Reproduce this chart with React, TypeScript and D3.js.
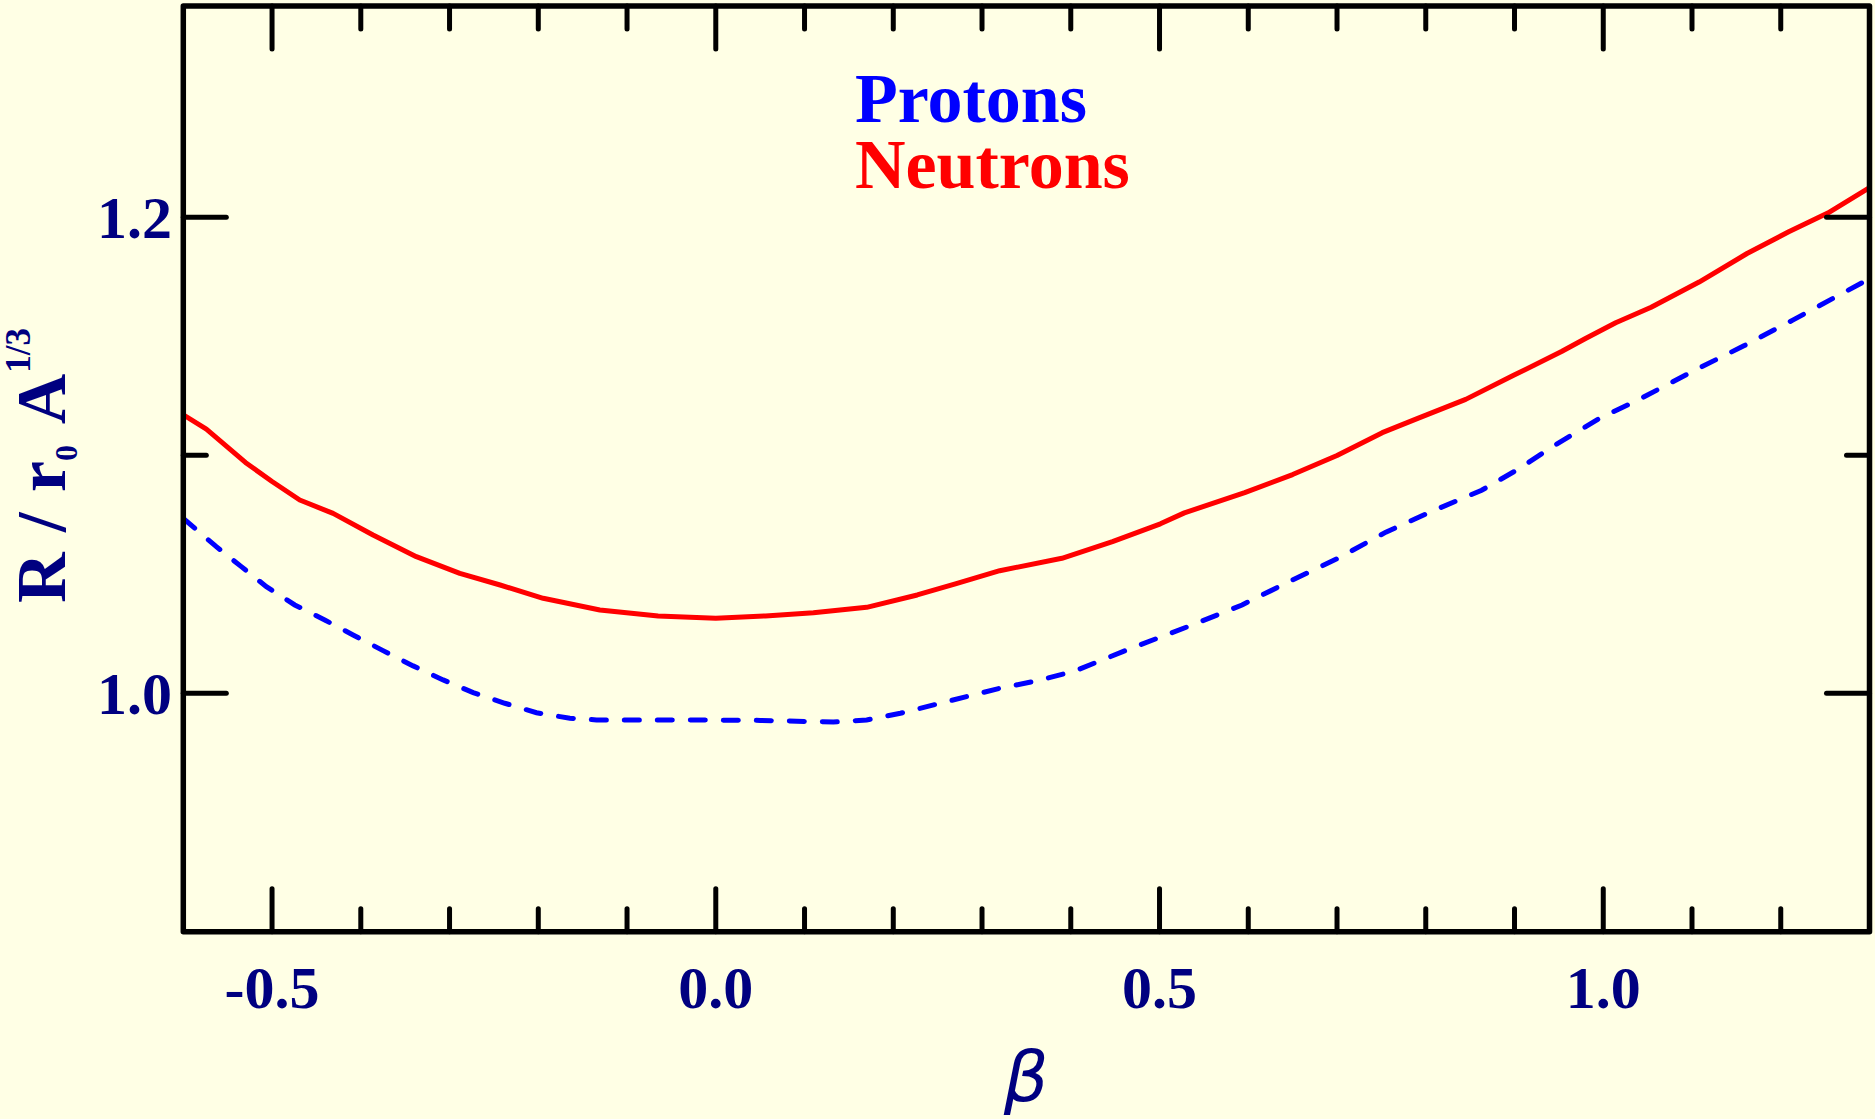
import * as d3 from 'd3';

// beta values and radii
const neutronBeta = [
  -0.6, -0.574, -0.53, -0.5, -0.4688, -0.4312, -0.3862, -0.3374, -0.2884, -0.243, -0.1945, -0.1306, -0.065, 0.0,
  0.056, 0.11, 0.17, 0.227, 0.27, 0.32, 0.39, 0.447, 0.501, 0.528, 0.596, 0.65, 0.7, 0.751, 0.791,
  0.845, 0.899, 0.953, 0.98, 1.014, 1.054, 1.108, 1.162, 1.209, 1.253, 1.3,
];
const neutronR = [
  1.117, 1.111, 1.097, 1.089, 1.0812, 1.0756, 1.0665, 1.0574, 1.0504, 1.0455, 1.0399, 1.035, 1.0325, 1.0315,
  1.0325, 1.0338, 1.0361, 1.0413, 1.046, 1.0515, 1.0567, 1.0637, 1.0712, 1.0758, 1.0843, 1.0919, 1.0999,
  1.1095, 1.1155, 1.1235, 1.1336, 1.1436, 1.1491, 1.1557, 1.1622, 1.1728, 1.1848, 1.1939, 1.2018, 1.2125,
];

const protonBeta = [
  -0.6, -0.5628, -0.5346, -0.5064, -0.4744, -0.4406, -0.4087, -0.3749, -0.341, -0.3072, -0.2734, -0.2377,
  -0.202, -0.1644, -0.1344, -0.05, 0.05, 0.1325, 0.17, 0.208, 0.2455, 0.32, 0.364, 0.405, 0.472, 0.539,
  0.593, 0.647, 0.701, 0.755, 0.809, 0.863, 0.903, 0.944, 0.998, 1.038, 1.105, 1.159, 1.213, 1.3,
];
const protonR = [
  1.0735, 1.0616, 1.0532, 1.0448, 1.0371, 1.0308, 1.0245, 1.0179, 1.0115, 1.0056, 1.0003, 0.9958,
  0.9918, 0.9895, 0.9888, 0.9888, 0.9886, 0.9879, 0.9888, 0.9916, 0.9951, 1.0021, 1.0054, 1.0094, 1.0195, 1.029,
  1.0371, 1.0471, 1.0567, 1.0677, 1.0768, 1.0853, 1.0939, 1.1039, 1.116, 1.123, 1.1361, 1.1461, 1.1567, 1.1742,
];

const xMajor = [-0.5, 0.0, 0.5, 1.0];
const xMinor = [-0.4, -0.3, -0.2, -0.1, 0.1, 0.2, 0.3, 0.4, 0.6, 0.7, 0.8, 0.9, 1.1, 1.2];
const yMajor = [1.0, 1.2];
const yMinor = [1.1];

const W = 1875;
const H = 1119;
const left = 183.3;
const right = 1869.5;
const top = 6;
const bottom = 931.7;

const navy = '#000080';
const bg = '#ffffe5';
const serif = "'Liberation Serif', 'Times New Roman', serif";

export default function App() {
  const x = d3.scaleLinear().domain([-0.6, 1.3]).range([left, right]);
  const y = d3.scaleLinear().domain([0.8998, 1.2888]).range([bottom, top]);

  const line = d3
    .line<[number, number]>()
    .x(d => x(d[0]))
    .y(d => y(d[1]))
    .curve(d3.curveLinear);

  const nPts = neutronBeta.map((b, i) => [b, neutronR[i]] as [number, number]);
  const pPts = protonBeta.map((b, i) => [b, protonR[i]] as [number, number]);

  const majorLen = 43;
  const minorLen = 23;

  return (
    <svg
      width={W}
      height={H}
      style={{ position: 'absolute', left: 0, top: 0, background: bg }}
    >
      <rect width={W} height={H} fill={bg} />
      <defs>
        <clipPath id="plot">
          <rect x={left} y={top} width={right - left} height={bottom - top} />
        </clipPath>
      </defs>

      <g clipPath="url(#plot)">
        <path d={line(pPts) ?? ''} fill="none" stroke="#0000ff" strokeWidth={5} strokeDasharray="15,18" strokeLinecap="round" />
        <path d={line(nPts) ?? ''} fill="none" stroke="#ff0000" strokeWidth={5} strokeLinejoin="round" />
      </g>

      {/* ticks */}
      <g stroke="#000" strokeWidth={5} strokeLinecap="round">
        {xMajor.map(v => (
          <g key={'xM' + v}>
            <line x1={x(v)} x2={x(v)} y1={bottom} y2={bottom - majorLen} />
            <line x1={x(v)} x2={x(v)} y1={top} y2={top + majorLen} />
          </g>
        ))}
        {xMinor.map(v => (
          <g key={'xm' + v}>
            <line x1={x(v)} x2={x(v)} y1={bottom} y2={bottom - minorLen} />
            <line x1={x(v)} x2={x(v)} y1={top} y2={top + minorLen} />
          </g>
        ))}
        {yMajor.map(v => (
          <g key={'yM' + v}>
            <line x1={left} x2={left + majorLen} y1={y(v)} y2={y(v)} />
            <line x1={right} x2={right - majorLen} y1={y(v)} y2={y(v)} />
          </g>
        ))}
        {yMinor.map(v => (
          <g key={'ym' + v}>
            <line x1={left} x2={left + minorLen} y1={y(v)} y2={y(v)} />
            <line x1={right} x2={right - minorLen} y1={y(v)} y2={y(v)} />
          </g>
        ))}
      </g>

      <rect
        x={left}
        y={top}
        width={right - left}
        height={bottom - top}
        fill="none"
        stroke="#000"
        strokeWidth={5.5}
        strokeLinejoin="round"
      />

      {/* tick labels */}
      <g fill={navy} fontFamily={serif} fontWeight="bold" fontSize={60}>
        {xMajor.map(v => (
          <text key={'xl' + v} x={x(v)} y={1008} textAnchor="middle">
            {v < 0 ? '-' + Math.abs(v).toFixed(1) : v.toFixed(1)}
          </text>
        ))}
        {yMajor.map(v => (
          <text key={'yl' + v} x={172} y={y(v) + 21} textAnchor="end">
            {v.toFixed(1)}
          </text>
        ))}
      </g>

      {/* y label */}
      <text
        transform="translate(65,603) rotate(-90)"
        fill={navy}
        fontFamily={serif}
        fontWeight="bold"
        fontSize={70}
        wordSpacing={3}
      >
        <tspan>R / r</tspan>
        <tspan fontSize={32} dy={12}>0</tspan>
        <tspan dy={-12} dx={4}> A</tspan>
        <tspan fontSize={35} dy={-35} dx={1}>1/3</tspan>
      </text>

      {/* x label */}
      <text
        x={1026}
        y={1101}
        textAnchor="middle"
        fill={navy}
        fontFamily="'DejaVu Sans', sans-serif"
        fontStyle="italic"
        fontSize={70}
      >
        β
      </text>

      {/* legend */}
      <g fontFamily={serif} fontWeight="bold" fontSize={70}>
        <text x={855} y={122} fill="#0000ff">Protons</text>
        <text x={855} y={188} fill="#ff0000">Neutrons</text>
      </g>
    </svg>
  );
}
